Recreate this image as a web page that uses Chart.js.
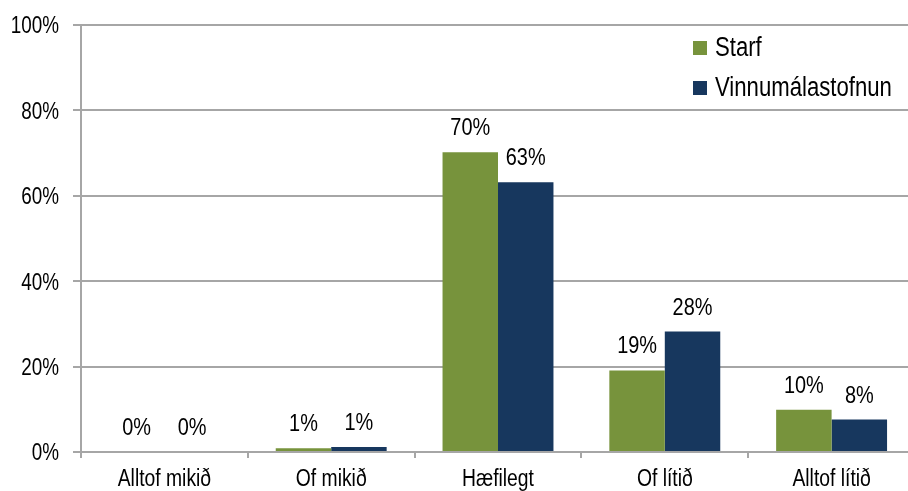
<!DOCTYPE html>
<html>
<head>
<meta charset="utf-8">
<script src="https://cdn.jsdelivr.net/npm/chart.js@4/dist/chart.umd.min.js"></script>
<style>
  html, body { margin: 0; padding: 0; background: #fff; overflow: hidden; width: 908px; height: 491px; }
  #wrap { position: absolute; left: 0; top: 0; width: 918px; height: 491px; }
</style>
</head>
<body>
<div id="wrap"><canvas id="c" width="918" height="491"></canvas></div>
<script>
const categories = ['Alltof mikið', 'Of mikið', 'Hæfilegt', 'Of lítið', 'Alltof lítið'];
const starf = [0, 0.9, 70.2, 19.1, 9.9];
const vinnumalastofnun = [0, 1.2, 63.2, 28.2, 7.6];
const seriesNames = ['Starf', 'Vinnumálastofnun'];
const yTicks = [0, 20, 40, 60, 80, 100];

const FONT = "'Liberation Sans', Arial, sans-serif";
const GREEN = '#77933C';
const BLUE = '#17375E';
const GRID = '#a6a6a6';

// draws text horizontally condensed (the reference uses a narrow face)
function narrowText(ctx, text, x, y, size, align, sx) {
  ctx.save();
  ctx.font = size + 'px ' + FONT;
  ctx.textAlign = align;
  ctx.textBaseline = 'alphabetic';
  ctx.fillStyle = '#000';
  ctx.translate(x, y);
  ctx.scale(sx, 1);
  ctx.fillText(text, 0, 0);
  ctx.restore();
}

const textPlugin = {
  id: 'narrowTexts',
  afterDraw(chart) {
    const ctx = chart.ctx;
    const xs = chart.scales.x, ys = chart.scales.y;
    // y tick labels
    yTicks.forEach(v => {
      narrowText(ctx, v + '%', xs.left - 22, ys.getPixelForValue(v) + 8.3, 23, 'right', 0.82);
    });
    // category labels
    categories.forEach((c, i) => {
      narrowText(ctx, c, xs.getPixelForValue(i), ys.bottom + 34, 23, 'center', 0.84);
    });
    // data labels
    chart.data.datasets.forEach((ds, i) => {
      const meta = chart.getDatasetMeta(i);
      meta.data.forEach((bar, j) => {
        narrowText(ctx, Math.round(ds.data[j]) + '%', bar.x, bar.y - 17, 24, 'center', 0.83);
      });
    });
    // legend
    const x0 = 693, baselines = [56, 96];
    chart.data.datasets.forEach((ds, i) => {
      ctx.fillStyle = ds.backgroundColor;
      ctx.fillRect(x0, baselines[i] - 15, 14, 14);
      narrowText(ctx, ds.label, x0 + 22, baselines[i], 27, 'left', 0.82);
    });
  }
};

new Chart(document.getElementById('c'), {
  type: 'bar',
  data: {
    labels: categories,
    datasets: [
      { label: seriesNames[0], data: starf, backgroundColor: GREEN },
      { label: seriesNames[1], data: vinnumalastofnun, backgroundColor: BLUE }
    ]
  },
  options: {
    responsive: false,
    animation: false,
    devicePixelRatio: 1,
    layout: { padding: { top: 25, right: 3, left: 0, bottom: 0 } },
    datasets: { bar: { categoryPercentage: 0.665, barPercentage: 1.0 } },
    plugins: { legend: { display: false }, tooltip: { enabled: false } },
    scales: {
      x: {
        grid: { offset: true, drawOnChartArea: false, tickLength: 6, color: GRID, lineWidth: 2 },
        border: { color: GRID, width: 2 },
        ticks: { display: false },
        afterFit(s) { s.height = 39; }
      },
      y: {
        min: 0, max: 100,
        afterBuildTicks(s) { s.ticks = yTicks.map(v => ({ value: v })); },
        ticks: { display: false },
        grid: { color: GRID, tickLength: 8, lineWidth: 2 },
        border: { color: GRID, width: 2 },
        afterFit(s) { s.width = 81; }
      }
    }
  },
  plugins: [textPlugin]
});
</script>
</body>
</html>
